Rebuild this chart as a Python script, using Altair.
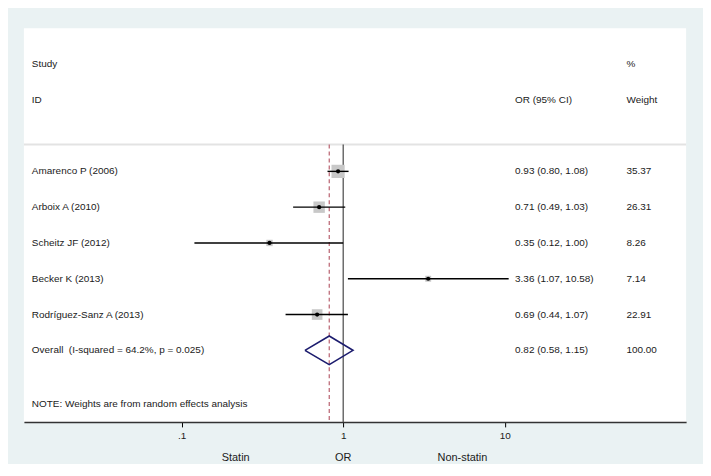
import altair as alt
import pandas as pd

# ---- data ----
studies = ["Amarenco P (2006)", "Arboix A (2010)", "Scheitz JF (2012)",
           "Becker K (2013)", "Rodríguez-Sanz A (2013)"]
odds = [0.93, 0.71, 0.35, 3.36, 0.69]
lower = [0.80, 0.49, 0.12, 1.07, 0.44]
upper = [1.08, 1.03, 1.00, 10.58, 1.07]
weights = [35.37, 26.31, 8.26, 7.14, 22.91]
rows = [3, 4, 5, 6, 7]

overall_label = "Overall\u00a0\u00a0(I-squared = 64.2%, p = 0.025)"
overall_or, overall_lo, overall_hi = 0.82, 0.58, 1.15
overall_weight = 100.00
overall_row = 8

note_text = "NOTE: Weights are from random effects analysis"
tick_values = [0.1, 1, 10]

FONT = "Liberation Sans"
TXT = "#1a1a1a"

# ---- tables ----
df = pd.DataFrame({
    "study": studies, "or": odds, "lo": lower, "hi": upper,
    "w": weights, "row": rows,
})
df["ci"] = [f"{o:.2f} ({l:.2f}, {h:.2f})" for o, l, h in zip(odds, lower, upper)]
df["wt"] = [f"{w:.2f}" for w in weights]

ov = pd.DataFrame({
    "study": [overall_label], "row": [overall_row],
    "ci": [f"{overall_or:.2f} ({overall_lo:.2f}, {overall_hi:.2f})"],
    "wt": [f"{overall_weight:.2f}"],
})
half = 0.4
diamond = pd.DataFrame({
    "x": [overall_lo, overall_or, overall_hi, overall_or, overall_lo],
    "y": [overall_row, overall_row - half, overall_row, overall_row + half, overall_row],
    "o": [0, 1, 2, 3, 4],
})

xscale = alt.Scale(type="log", domain=[0.01056, 132.7], nice=False)
yscale = alt.Scale(domain=[-1, 10], reverse=True, nice=False, zero=False)

xaxis = alt.Axis(values=tick_values, labelExpr="datum.value == 0.1 ? '.1' : datum.label",
                 title=None, grid=False, tickSize=5, tickColor="#000", tickWidth=1,
                 domainColor="#333", domainWidth=1.5, labelFont=FONT, labelFontSize=10,
                 labelColor=TXT, labelPadding=4)

base = alt.Chart(df)

sep = alt.Chart(pd.DataFrame({"y": [2.25]})).mark_rule(color="#e3e3e3", strokeWidth=2).encode(
    y=alt.Y("y:Q", scale=yscale, axis=None),
    x=alt.value(0), x2=alt.value(666))

null_line = alt.Chart(pd.DataFrame({"x": [1]})).mark_rule(color="#222", strokeWidth=1).encode(
    x=alt.X("x:Q", scale=xscale, axis=xaxis),
    y=alt.datum(2.25, scale=yscale), y2=alt.datum(10))

ov_line = alt.Chart(pd.DataFrame({"x": [overall_or]})).mark_rule(
    color="#b8616f", strokeWidth=1.2, strokeDash=[4, 3]).encode(
    x=alt.X("x:Q", scale=xscale),
    y=alt.datum(2.25, scale=yscale), y2=alt.datum(10))

squares = base.mark_square(color="#c8c8c8", opacity=1).encode(
    x=alt.X("or:Q", scale=xscale),
    y=alt.Y("row:Q", scale=yscale),
    size=alt.Size("w:Q", scale=alt.Scale(domain=[0, 100], range=[0, 500]), legend=None))

ci = base.mark_rule(color="#000", strokeWidth=1.4).encode(
    x=alt.X("lo:Q", scale=xscale), x2="hi:Q",
    y=alt.Y("row:Q", scale=yscale))

pts = base.mark_point(shape="circle", filled=True, color="#000", size=18, opacity=1).encode(
    x=alt.X("or:Q", scale=xscale),
    y=alt.Y("row:Q", scale=yscale))

dia = alt.Chart(diamond).mark_line(color="#1c1c6e", strokeWidth=1.6).encode(
    x=alt.X("x:Q", scale=xscale),
    y=alt.Y("y:Q", scale=yscale),
    order="o:Q")

def txt(data, field, xpx, align="left"):
    return alt.Chart(data).mark_text(align=align, baseline="middle", font=FONT,
                                     fontSize=10, color=TXT).encode(
        x=alt.value(xpx), y=alt.Y("row:Q", scale=yscale), text=f"{field}:N")

labels = txt(df, "study", 8)
cis = txt(df, "ci", 494)
wts = txt(df, "wt", 606)
ov_lab = txt(ov, "study", 8)
ov_ci = txt(ov, "ci", 494)
ov_wt = txt(ov, "wt", 606)

hdr = pd.DataFrame({
    "t": ["Study", "ID", "OR (95% CI)", "%", "Weight", note_text],
    "row": [0, 1, 1, 0, 1, 9.5],
    "col": ["a", "a", "b", "c", "c", "a"],
})
hdr_a = txt(hdr[hdr.col == "a"], "t", 8)
hdr_b = txt(hdr[hdr.col == "b"], "t", 494)
hdr_c = txt(hdr[hdr.col == "c"], "t", 606)

bottom_titles = pd.DataFrame({"t": ["Statin", "OR", "Non-statin"]})
bt = []
for t, xp in zip(["Statin", "OR", "Non-statin"], [213, 321, 441]):
    bt.append(alt.Chart(bottom_titles[bottom_titles.t == t]).mark_text(
        align="center", baseline="middle", font=FONT, fontSize=11, color=TXT).encode(
        x=alt.value(xp), y=alt.value(432), text="t:N"))

chart = alt.layer(sep, null_line, ov_line, squares, ci, pts, dia,
                  labels, cis, wts, ov_lab, ov_ci, ov_wt, hdr_a, hdr_b, hdr_c, *bt).properties(
    width=666, height=396,
    autosize=alt.AutoSizeParams(type="none"),
    padding={"left": 16, "top": 19, "right": 17, "bottom": 41},
    background="#eaf2f3",
).configure_view(fill="white", stroke=None)

chart.save("out.html", embed_options={"renderer": "svg", "actions": False})
